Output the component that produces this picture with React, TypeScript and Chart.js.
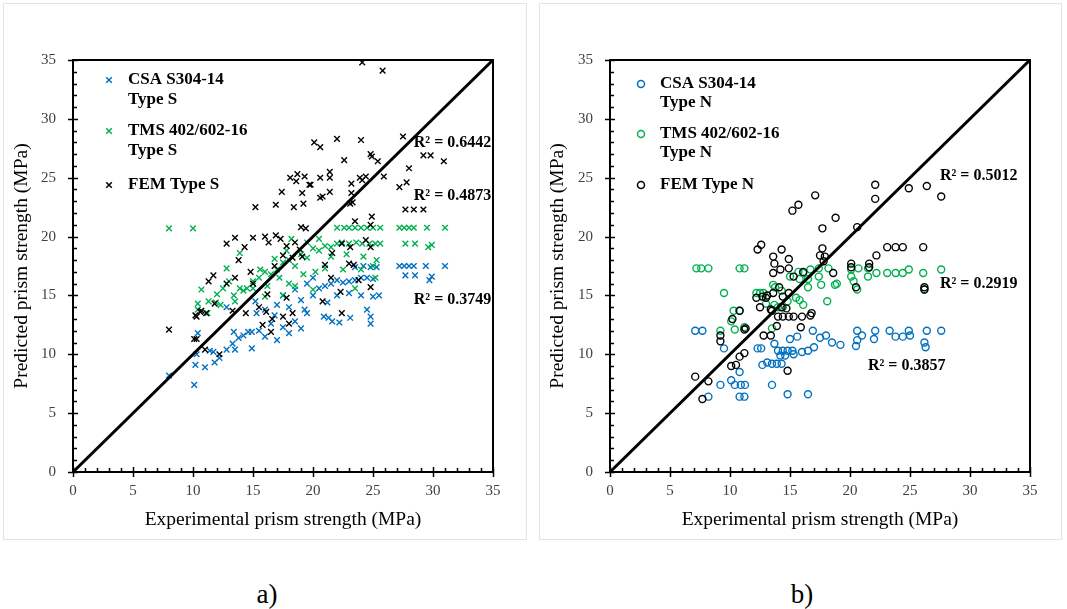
import React, { useEffect, useRef } from "react";
import { Chart, registerables } from "chart.js";
Chart.register(...registerables);

type P = [number, number];

const SERIF = "'Times New Roman', 'Liberation Serif', serif";
const AXIS_MIN = 0;
const AXIS_MAX = 35;
const MAJOR_STEP = 5;

const BLUE = "#0070C0";
const GREEN = "#00B050";
const BLACK = "#000000";

// ---------- a) Type S ----------
const csaTypeS: P[] = [
  [8, 8.2], [10.1, 7.4], [10.3, 10], [10.2, 9.1], [11, 8.9], [11.4, 10.3], [11.7, 10.2], [11.8, 9.3], [12.2, 9.7],
  [12.8, 10.4], [13.3, 10.9], [13.5, 10.4], [13.4, 11.9], [13.8, 11.4], [14.2, 11.6], [14.6, 11.9], [14.9, 11.9],
  [14.9, 10.5], [10.4, 11.8], [12.8, 14], [15.3, 13.5], [15.5, 12], [16, 11.5], [16.5, 12.6], [17, 11.2], [17.5, 12.3],
  [18, 11.8], [18.5, 12.8], [19, 12.2], [19.5, 13.5], [16, 13.8], [17, 14.2], [18, 14], [19, 14.6], [20, 15],
  [20.5, 15.6], [21, 15.8], [21.5, 16], [22, 16.3], [22.5, 16.1], [23, 16.2], [23.5, 16.3], [24, 16.5], [24.5, 16.5],
  [25, 16.4], [25.3, 17.4], [24.8, 17.4], [24.2, 17.5], [23.5, 17.4], [20.9, 13.2], [21.3, 13.1], [21.6, 12.8],
  [22.2, 12.7], [23.1, 13.1], [24.8, 13.2], [24.8, 12.6], [19.3, 13.8], [17.5, 15], [18.5, 15.5], [19.5, 16], [20, 16.5],
  [16.8, 13.3], [15.2, 14.5], [22, 15], [23, 15.2], [24, 15], [25, 14.9], [25.5, 15], [24.5, 13.8], [21.2, 14.4],
  [27.2, 17.5], [27.6, 17.5], [28, 17.5], [28.4, 17.5], [29.4, 17.5], [31, 17.5], [27.7, 16.7], [28.5, 16.7],
  [29.7, 16.3], [29.9, 16.6],
];
const tmsTypeS: P[] = [
  [8, 20.7], [10, 20.7], [13.9, 18.6], [12.8, 17.3], [10.7, 15.5], [10.4, 14.3], [11.3, 14.5], [11.9, 14.4], [12.3, 14.2],
  [13.4, 15], [13.9, 15.6], [14.5, 15.6], [15, 15.6], [10.4, 13.8], [11.2, 13.5], [13.5, 14.5],
  [22, 20.75], [22.6, 20.75], [23, 20.75], [23.5, 20.75], [24, 20.75], [24.5, 20.75], [25, 20.75], [25.6, 20.75],
  [27.2, 20.75], [27.6, 20.75], [28, 20.75], [28.4, 20.75], [29.5, 20.75], [31, 20.75],
  [27.7, 19.4], [28.5, 19.4], [29.6, 19.1], [29.9, 19.3],
  [15.5, 16.5], [16, 17], [16.5, 16.8], [17, 17.2], [17.5, 17.8], [18, 18], [18.5, 17.5], [19, 18.5], [19.5, 18.2],
  [20, 19], [20.5, 18.8], [21, 19.2], [21.5, 19.1], [22, 19.4], [22.4, 19.5], [23, 19.4], [23.6, 19.5], [24.1, 19.4],
  [24.7, 19.4], [25.2, 19.4], [25.6, 19.4], [21.5, 18.3], [22.8, 18.5], [24.2, 18.3], [25.3, 18], [16.2, 15.8],
  [17.2, 16.5], [18, 16], [19.2, 16.8], [20.2, 17], [21, 17.3], [22.5, 17.2], [24, 17.2], [25, 17.5], [15, 16.2],
  [14.2, 15.4], [16, 14.9], [17.5, 15], [18.5, 15.8], [20, 15.5], [23.5, 15.6], [25.2, 16.5], [12, 15.1], [12.5, 15.6],
  [13, 16.2], [15.6, 17.2], [16.8, 18.1], [17.8, 18.8], [19.5, 19.5], [20.5, 19.8], [18.2, 19.8],
];
const femTypeS: P[] = [
  [24.1, 34.8], [25.8, 34.1],
  [20.1, 28], [20.6, 27.6], [22, 28.3], [24, 28.2], [27.5, 28.5], [29.2, 26.9], [29.8, 26.9], [30.9, 26.4], [22.6, 26.5],
  [24.8, 27], [25.4, 26.4], [28, 25.8], [25.9, 25.1], [27.8, 24.6], [27.2, 24.2], [27.7, 22.3], [28.4, 22.3],
  [29.2, 22.3], [24.9, 26.8],
  [18.1, 25], [18.7, 25.3], [19.3, 25.1], [18.6, 24.7], [20.6, 25], [21.4, 25.5], [21.4, 25], [19.8, 24.4], [23.2, 24.5],
  [23.9, 25], [24.4, 25.1], [17.4, 23.8], [19.1, 23.7], [20.8, 23.4], [21.4, 23.8], [23.2, 23.7], [15.2, 22.5],
  [16.9, 22.7], [18.4, 22.5], [19.2, 22.8], [23.1, 22.8], [23.3, 22.9], [19.7, 24.4], [20.6, 23.3], [24.1, 24.8],
  [12.8, 19.4], [13.5, 19.9], [14.3, 19.1], [15, 19.9], [13.8, 18], [14.8, 17], [11.7, 16.7], [11.3, 16.2], [12.8, 16],
  [13.5, 16.5], [15, 16], [10.6, 13.6], [11.1, 13.5], [10.3, 13.2],
  [16, 20], [16.3, 19.5], [16.9, 20.1], [17.3, 19.8], [17.8, 19.2], [18.5, 19.5], [18.3, 18.2], [17.5, 18.4], [16.8, 17.5],
  [15.5, 14], [16.1, 13.6], [16.6, 13], [17.5, 13.2], [18, 12.6], [18.3, 13.5], [17.8, 14.8], [16.2, 15.1], [15.8, 12.5],
  [16.5, 11.9],
  [8, 12.1], [10.1, 11.3], [10.3, 11.3], [11, 10.4], [12.2, 10], [10.2, 13.3], [10.7, 13.7], [11.8, 14.3], [13.3, 13.7],
  [14.4, 13.5],
  [24.9, 21.7], [23.5, 21.3], [24.8, 21], [19, 20.8], [19.4, 20.7], [22.4, 19.4], [23.1, 19.1], [24.4, 19.7], [24.8, 19.1],
  [21.6, 18.6], [23, 17.7], [23.4, 17.6], [21, 17.6], [21.5, 16.5], [23.8, 16.3], [22.3, 15.3], [20.8, 14.5], [22.4, 13.5],
  [24.8, 15.7], [18.9, 18.9], [19.1, 18.3],
];

// ---------- b) Type N ----------
const csaTypeN: P[] = [
  [7.1, 12], [7.7, 12], [9.2, 7.4], [8.2, 6.4], [9.5, 10.5], [10.1, 7.8], [10.4, 7.4], [10.9, 7.4], [11.25, 7.4],
  [10.8, 6.4], [11.2, 6.4], [10.8, 8.5], [12.3, 10.5], [12.6, 10.5], [12.7, 9.1], [13.1, 9.3], [13.5, 9.2], [13.9, 9.2],
  [14.3, 9.2], [13.5, 7.4], [14.8, 6.6], [13.7, 10.9], [14, 10.3], [14.4, 10.3], [14.8, 10.3], [15.2, 10.3], [14.2, 9.9],
  [14.6, 9.9], [15.3, 10], [15, 11.3], [15.6, 11.5], [16, 10.2], [16.5, 10.3], [17, 10.6], [17.5, 11.4], [18, 11.6],
  [16.5, 6.6], [16.9, 12], [20.6, 12], [22.1, 12], [23.3, 12], [24.9, 12], [26.4, 12], [27.6, 12], [20.6, 11.2],
  [21, 11.6], [22, 11.3], [23.8, 11.5], [24.4, 11.5], [25, 11.6], [26.2, 11], [26.3, 10.6], [20.5, 10.7], [18.5, 11],
  [19.2, 10.8],
];
const tmsTypeN: P[] = [
  [7.2, 17.3], [7.6, 17.3], [8.2, 17.3], [10.8, 17.3], [11.2, 17.3], [9.5, 15.2], [10.3, 13.7], [10.8, 13.7], [10.1, 12.8],
  [10.4, 12.1], [9.2, 12], [11.2, 12.3], [12.2, 15.2], [12.5, 15.2], [13.5, 12.2], [13.6, 15.9], [14, 14], [14.4, 14],
  [12.8, 15.2], [13.75, 15.7], [14.3, 15.4], [13, 14.3], [13.7, 14.2], [14.8, 14.5], [15.5, 14.8], [15.8, 14.6],
  [16.1, 14.2], [15, 16.6], [15.8, 16.4], [16.5, 16.4], [16.5, 15.7], [15.7, 17], [16.1, 16.9], [17.4, 16.6],
  [17.6, 15.9], [18.75, 15.9], [18.9, 16], [20.1, 16.6], [20.3, 16.2], [20.6, 15.5], [21.5, 16.6], [26.2, 15.5],
  [18.1, 14.5], [16.7, 17.2], [17.4, 17.3], [18.2, 17.3], [20.1, 17.2], [20.7, 17.3], [21.5, 17.3], [22.2, 16.9],
  [23.1, 16.9], [23.8, 16.9], [24.4, 16.9], [24.9, 17.2], [26.1, 16.9], [27.6, 17.2],
];
const femTypeN: P[] = [
  [7.1, 8.1], [7.7, 6.2], [8.2, 7.7], [9.2, 11.6], [9.2, 11.1], [10.1, 9], [10.5, 9.1], [10.8, 9.8], [11.2, 10.1],
  [10.8, 13.7], [11.2, 12.1], [11.3, 12.2], [10.2, 13], [12.8, 11.6], [13.4, 11.6], [12.5, 14], [13, 14.8], [12.2, 14.8],
  [13.5, 13.7], [14.8, 8.6], [14, 13.2], [14.4, 13.2], [14.9, 13.2], [15.3, 13.2],
  [15.2, 22.2], [15.7, 22.7], [12.3, 18.9], [12.6, 19.3], [14.3, 18.9], [13.6, 18.3], [13.7, 17.7], [14.9, 18.1],
  [14.2, 17.2], [14.9, 17.3], [13.6, 16.9], [14.1, 15.7], [12.7, 14.9], [13.1, 15], [13.6, 15.2], [14.4, 14.9],
  [14.9, 15.2], [14.3, 14], [14.7, 13.9], [13.4, 13.8],
  [22.1, 24.4], [22.1, 23.2], [24.9, 24.1], [26.4, 24.3], [27.6, 23.4], [17.1, 23.5], [18.8, 21.6], [17.7, 20.7],
  [20.6, 20.8], [17.7, 19], [17.5, 18.4], [17.8, 17.9], [17.9, 18.3], [23.1, 19.1], [23.8, 19.1], [24.4, 19.1],
  [26.1, 19.1], [22.2, 18.4], [20.1, 17.7], [20.1, 17.4], [21.6, 17.7], [21.6, 17.4], [18.6, 16.9], [20.5, 15.7],
  [26.2, 15.7], [26.2, 15.5], [15.3, 16.6], [16.1, 17], [16, 13.2], [16.7, 13.3], [16.8, 13.5], [15.9, 12.3], [13.9, 12.4],
];

const equalityLine: P[] = [[AXIS_MIN, AXIS_MIN], [AXIS_MAX, AXIS_MAX]];

const xTitle = "Experimental prism strength (MPa)";
const yTitle = "Predicted prism strength (MPa)";

const legendTypeS: string[][] = [["CSA S304-14", "Type S"], ["TMS 402/602-16", "Type S"], ["FEM Type S"]];
const legendTypeN: string[][] = [["CSA S304-14", "Type N"], ["TMS 402/602-16", "Type N"], ["FEM Type N"]];

const r2TypeS = ["R² = 0.6442", "R² = 0.4873", "R² = 0.3749"];
const r2TypeSAt: P[] = [[28.4, 27.95], [28.4, 23.45], [28.4, 14.6]];
const r2TypeN = ["R² = 0.5012", "R² = 0.2919", "R² = 0.3857"];
const r2TypeNAt: P[] = [[27.5, 25.2], [27.5, 16.0], [21.5, 9.0]];

type Series = { points: P[]; color: string };

function drawMarker(ctx: CanvasRenderingContext2D, style: string, color: string, x: number, y: number) {
  ctx.save();
  ctx.strokeStyle = color;
  ctx.lineWidth = 1.5;
  ctx.beginPath();
  if (style === "crossRot") {
    const d = 2.8;
    ctx.moveTo(x - d, y - d);
    ctx.lineTo(x + d, y + d);
    ctx.moveTo(x + d, y - d);
    ctx.lineTo(x - d, y + d);
  } else {
    ctx.arc(x, y, 3.5, 0, Math.PI * 2);
  }
  ctx.stroke();
  ctx.restore();
}

type PanelProps = {
  series: Series[];
  pointStyle: string;
  legend: string[][];
  legendRows: number[][];
  legendMarkerX: number;
  legendTextX: number;
  r2: string[];
  r2At: P[];
  width: number;
  height: number;
  yAxisWidth: number;
  rightPad: number;
};

function ScatterPanel(props: PanelProps) {
  const ref = useRef<HTMLCanvasElement>(null);
  useEffect(() => {
    const { series, pointStyle, legend, legendRows, legendMarkerX, legendTextX, r2, r2At, yAxisWidth, rightPad } = props;
    const overlay = {
      id: "overlay",
      afterDraw(chart: any) {
        const { ctx, chartArea: a, scales } = chart;
        const xs = scales.x;
        const ys = scales.y;
        ctx.save();
        ctx.strokeStyle = "#000";
        ctx.lineWidth = 2;
        ctx.strokeRect(a.left, a.top, a.right - a.left, a.bottom - a.top);
        ctx.lineWidth = 1.5;
        for (let v = AXIS_MIN; v <= AXIS_MAX; v++) {
          const major = v % MAJOR_STEP === 0;
          const px = Math.round(xs.getPixelForValue(v)) + 0.5;
          ctx.beginPath();
          ctx.moveTo(px, a.bottom + (major ? 5 : 0));
          ctx.lineTo(px, a.bottom - (major ? 5 : 4));
          ctx.stroke();
          const py = Math.round(ys.getPixelForValue(v)) + 0.5;
          ctx.beginPath();
          ctx.moveTo(a.left - (major ? 5 : 0), py);
          ctx.lineTo(a.left + (major ? 5 : 4), py);
          ctx.stroke();
        }
        // legend
        ctx.fillStyle = "#000";
        ctx.font = `bold 17px ${SERIF}`;
        ctx.textBaseline = "middle";
        ctx.textAlign = "left";
        legend.forEach((lines, i) => {
          drawMarker(ctx, pointStyle, series[i].color, legendMarkerX, legendRows[i][0]);
          lines.forEach((t, j) => ctx.fillText(t, legendTextX, legendRows[i][j]));
        });
        // R² labels
        ctx.font = `bold 16px ${SERIF}`;
        r2.forEach((t, i) => {
          ctx.fillText(t, xs.getPixelForValue(r2At[i][0]), ys.getPixelForValue(r2At[i][1]));
        });
        ctx.restore();
      },
    };
    const pointSets = series
      .map((s) => ({
        type: "scatter" as const,
        data: s.points.map(([x, y]) => ({ x, y })),
        pointStyle: pointStyle as any,
        pointRadius: pointStyle === "crossRot" ? 4 : 3.5,
        pointBorderWidth: 1.4,
        borderColor: s.color,
        pointBorderColor: s.color,
        backgroundColor: "rgba(0,0,0,0)",
        pointBackgroundColor: "rgba(0,0,0,0)",
      }))
      .reverse();
    const chart = new Chart(ref.current as HTMLCanvasElement, {
      type: "scatter",
      data: {
        datasets: [
          {
            type: "line",
            data: equalityLine.map(([x, y]) => ({ x, y })),
            borderColor: "#000",
            borderWidth: 3,
            pointRadius: 0,
            fill: false,
          } as any,
          ...pointSets,
        ],
      },
      options: {
        animation: false,
        responsive: false,
        events: [],
        layout: { padding: { left: 0, top: 56, right: rightPad, bottom: 0 } },
        plugins: { legend: { display: false }, tooltip: { enabled: false } },
        scales: {
          x: {
            type: "linear",
            min: AXIS_MIN,
            max: AXIS_MAX,
            ticks: { stepSize: MAJOR_STEP, font: { family: SERIF, size: 15 }, color: "#404040", padding: 10 },
            grid: { display: false, drawTicks: false },
            border: { display: false },
            title: { display: true, text: xTitle, font: { family: SERIF, size: 19.5 }, color: "#000", padding: { top: 0, bottom: 7 } },
            afterFit: (s: any) => {
              s.height = 67;
            },
          },
          y: {
            type: "linear",
            min: AXIS_MIN,
            max: AXIS_MAX,
            ticks: { stepSize: MAJOR_STEP, font: { family: SERIF, size: 15 }, color: "#404040", padding: 17 },
            grid: { display: false, drawTicks: false },
            border: { display: false },
            title: { display: true, text: yTitle, font: { family: SERIF, size: 19.5 }, color: "#000", padding: { top: 6, bottom: 0 } },
            afterFit: (s: any) => {
              s.width = yAxisWidth;
            },
          },
        },
      },
      plugins: [overlay],
    } as any);
    return () => chart.destroy();
  }, []);
  return <canvas ref={ref} width={props.width} height={props.height} style={{ display: "block" }} />;
}

export default function App() {
  const panelBox: React.CSSProperties = {
    position: "absolute",
    top: 3,
    height: 537,
    border: "1px solid #e4e4e4",
    boxSizing: "border-box",
    background: "#fff",
  };
  const caption: React.CSSProperties = {
    position: "absolute",
    top: 577,
    width: 60,
    textAlign: "center",
    fontFamily: SERIF,
    fontSize: 27,
    lineHeight: "34px",
    color: "#000",
  };
  return (
    <div style={{ position: "absolute", left: 0, top: 0, width: 1067, height: 609, background: "#fff", overflow: "hidden" }}>
      <div style={{ ...panelBox, left: 3, width: 524 }}>
        <ScatterPanel
          series={[
            { points: csaTypeS, color: BLUE },
            { points: tmsTypeS, color: GREEN },
            { points: femTypeS, color: BLACK },
          ]}
          pointStyle="crossRot"
          legend={legendTypeS}
          legendRows={[[76, 96], [127, 147], [181]]}
          legendMarkerX={105}
          legendTextX={124}
          r2={r2TypeS}
          r2At={r2TypeSAt}
          width={522}
          height={535}
          yAxisWidth={69}
          rightPad={33}
        />
      </div>
      <div style={{ ...panelBox, left: 539, width: 523 }}>
        <ScatterPanel
          series={[
            { points: csaTypeN, color: BLUE },
            { points: tmsTypeN, color: GREEN },
            { points: femTypeN, color: BLACK },
          ]}
          pointStyle="circle"
          legend={legendTypeN}
          legendRows={[[80, 99], [130, 149], [181]]}
          legendMarkerX={101}
          legendTextX={120}
          r2={r2TypeN}
          r2At={r2TypeNAt}
          width={521}
          height={535}
          yAxisWidth={70}
          rightPad={31}
        />
      </div>
      <div style={{ ...caption, left: 237 }}>a)</div>
      <div style={{ ...caption, left: 772 }}>b)</div>
    </div>
  );
}
